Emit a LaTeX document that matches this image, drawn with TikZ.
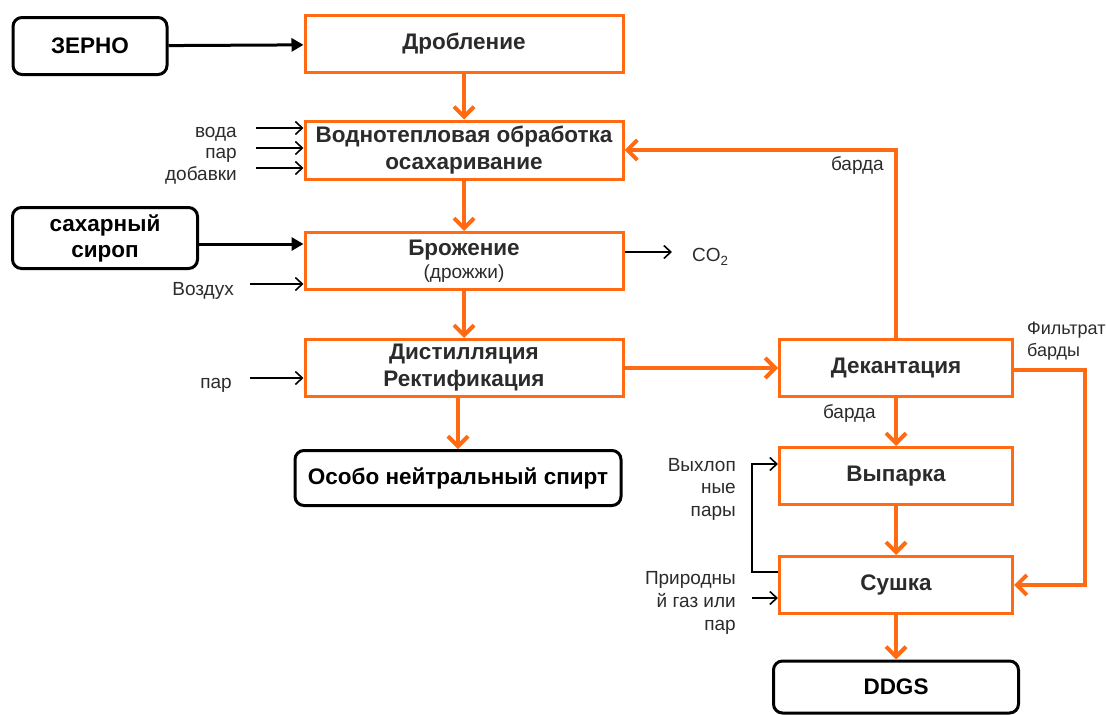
\documentclass[tikz,border=0pt]{standalone}
\usepackage{fontspec}
\setmainfont{Liberation Sans}
\usetikzlibrary{arrows.meta}
\definecolor{flow}{HTML}{FF6A13}
\definecolor{boxtext}{HTML}{2B2B2B}
\begin{document}
\begin{tikzpicture}[x=1pt,y=-1pt,
    proc/.style={draw=flow, line width=3pt, fill=white, minimum width=318pt, minimum height=57pt,
        font=\fontsize{22.5}{27}\selectfont\bfseries, text=boxtext, align=center, inner sep=1pt},
    term/.style={draw=black, line width=3pt, rounded corners=9pt, minimum height=57pt,
        font=\fontsize{22.5}{26}\selectfont\bfseries, align=center, inner sep=1pt},
    lbl/.style={font=\fontsize{19}{21}\selectfont, text=boxtext, inner sep=0pt},
    flowarr/.style={draw=flow, line width=4pt, -{Straight Barb[length=10pt,width=20pt]}},
    feed/.style={line width=3pt, -{Triangle[length=12pt,width=13pt]}},
    thin/.style={line width=1.6pt, -{Straight Barb[length=7pt,width=13pt]}}]
    \useasboundingbox (0,0) rectangle (1106,715);

    % main line
    \node[term, minimum width=154pt] (zerno) at (90,46) {ЗЕРНО};
    \node[proc] (drob) at (464,44) {Дробление};
    \node[proc, minimum height=58pt] (vodo) at (464,150) {Воднотепловая обработка\\осахаривание};
    \node[term, minimum width=185pt, minimum height=61pt] (sirop) at (105,238) {сахарный\\сироп};
    \node[proc] (brozh) at (464,261) {Брожение\\[-4pt]{\fontsize{19}{22}\selectfont\mdseries(дрожжи)}};
    \node[proc] (dist) at (464,368) {Дистилляция\\Ректификация};
    \node[term, minimum width=326pt, minimum height=55pt] (spirt) at (458,478) {Особо нейтральный спирт};

    % right column
    \node[proc, minimum width=233pt] (dekant) at (896,368) {Декантация};
    \node[proc, minimum width=233pt] (vypar) at (896,476) {Выпарка};
    \node[proc, minimum width=233pt] (sushka) at (896,585) {Сушка};
    \node[term, minimum width=245pt, minimum height=52pt] (ddgs) at (896,687) {DDGS};

    \draw[feed] (zerno) -- (drob);
    \draw[feed] (sirop.east |- 0,244) -- (brozh.west |- 0,244);

    \draw[flowarr] (drob) -- (vodo);
    \draw[flowarr] (vodo) -- (brozh);
    \draw[flowarr] (brozh) -- (dist);
    \draw[flowarr] (dist.south -| spirt.north) -- (spirt.north);
    \draw[flowarr] (dist) -- (dekant);
    \draw[flowarr] (dekant) -- (vypar);
    \draw[flowarr] (vypar) -- (sushka);
    \draw[flowarr] (sushka) -- (ddgs);
    \draw[flowarr] (dekant.north) |- (vodo.east);
    \coordinate (filtr) at (1085,370);
    \draw[flowarr] (dekant.east |- filtr) -- (filtr) |- (sushka.east);

    \node[lbl, anchor=east] (barda1) at (884,166) {барда};
    \node[lbl, anchor=east] (barda2) at (876,413) {барда};
    \node[lbl, anchor=west, align=left, font=\fontsize{18}{22}\selectfont] (filtrlbl) at (1027,341) {Фильтрат\\барды};

    % inputs on the left
    \node[lbl, anchor=east] (voda) at (237,134) {вода};
    \node[lbl, anchor=east] (par1) at (237,155) {пар};
    \node[lbl, anchor=east] (dobav) at (237,175) {добавки};
    \coordinate (w1) at (256,128);
    \coordinate (w2) at (256,148);
    \coordinate (w3) at (256,168);
    \draw[thin] (w1) -- (w1 -| vodo.west);
    \draw[thin] (w2) -- (w2 -| vodo.west);
    \draw[thin] (w3) -- (w3 -| vodo.west);

    \node[lbl, anchor=east] (vozduh) at (234,291) {Воздух};
    \coordinate (w4) at (250,284);
    \draw[thin] (w4) -- (w4 -| brozh.west);

    \node[lbl, anchor=east] (par2) at (232,385) {пар};
    \coordinate (w5) at (250,378);
    \draw[thin] (w5) -- (w5 -| dist.west);

    % CO2 out
    \node[lbl, anchor=west] (co2) at (692,257) {CO\textsubscript{2}};
    \coordinate (co2in) at (672,252);
    \draw[thin] (brozh.east |- co2in) -- (co2in);

    % drying loop
    \node[lbl, anchor=east, align=right, font=\fontsize{19}{22.5}\selectfont] (vyhlop) at (736,489) {Выхлоп\\ные\\пары};
    \node[lbl, anchor=east, align=right, font=\fontsize{19}{23}\selectfont] (gaz) at (736,603) {Природны\\й газ или\\пар};
    \coordinate (loop) at (752,572);
    \draw[thin] (sushka.west |- loop) -- (loop) |- ([yshift=12pt]vypar.west);
    \coordinate (w6) at (752,598);
    \draw[thin] (w6) -- (w6 -| sushka.west);
\end{tikzpicture}
\end{document}
